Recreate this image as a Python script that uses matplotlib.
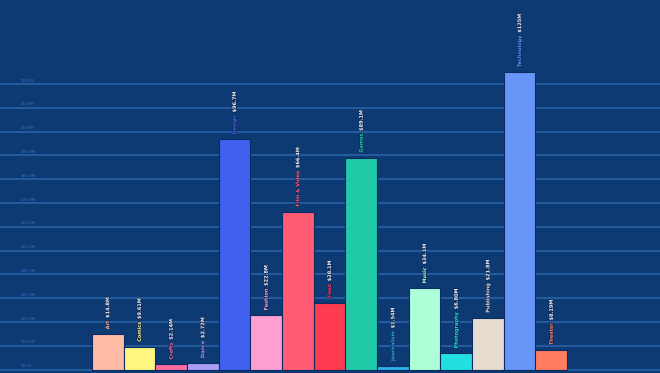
import matplotlib
matplotlib.use("Agg")
import matplotlib.pyplot as plt
import matplotlib.patheffects as pe
import numpy as np

# Kickstarter-style pledged totals per category (in $M)
categories = ["Art", "Comics", "Crafts", "Dance", "Design", "Fashion", "Film & Video",
              "Food", "Games", "Journalism", "Music", "Photography", "Publishing",
              "Technology", "Theater"]
pledged = [14.8, 9.61, 2.14, 2.72, 96.7, 22.8, 66.4, 28.1, 89.1, 1.54, 34.1,
           6.80, 21.8, 125.0, 8.19]
value_labels = ["$14.8M", "$9.61M", "$2.14M", "$2.72M", "$96.7M", "$22.8M", "$66.4M",
                "$28.1M", "$89.1M", "$1.54M", "$34.1M", "$6.80M", "$21.8M", "$125M",
                "$8.19M"]
bar_colors = ["#ffbba6", "#fff780", "#ff6b9c", "#a99cf5", "#4060f0", "#ffa0d2",
              "#ff5c73", "#ff3b50", "#20c9a7", "#2bb0e8", "#adffd8", "#22e0e0",
              "#e5dccf", "#6896f8", "#ff7c60"]
tick_values = [0, 10, 20, 30, 40, 50, 60, 70, 80, 90, 100, 110, 120]
tick_labels = ["$0.00", "$10.0M", "$20.0M", "$30.0M", "$40.0M", "$50.0M", "$60.0M",
               "$70.0M", "$80.0M", "$90.0M", "$100M", "$110M", "$120M"]

bg = "#0e3a74"
dpi = 100
fig = plt.figure(figsize=(6.6, 3.73), dpi=dpi, facecolor=bg)
ax = fig.add_axes([0, 0, 1, 1])
ax.set_facecolor(bg)

n = len(categories)
x = np.arange(n)
ax.set_xlim(-3.4, n - 1 + 3.43)
ax.set_ylim(-1.47, 155.3)

# gridlines + tick labels drawn by hand on the left
for v, lab in zip(tick_values, tick_labels):
    ax.axhline(v, color="#2a66ac", lw=1.1, zorder=1)
    ax.text(0.032, v + 0.8, lab, transform=ax.get_yaxis_transform(),
            fontsize=3.0, color="#2f6fc0", ha="left", va="bottom", zorder=2)

ax.bar(x, pledged, width=1.0, color=bar_colors, edgecolor="#0b2c62",
       linewidth=0.8, zorder=3)

for s in ax.spines.values():
    s.set_visible(False)
ax.set_xticks([])
ax.set_yticks([])

# labels above bars: category name in bar colour, then value in white
fs = 3.6
halo = [pe.withStroke(linewidth=1.0, foreground="#0b2a5a")]
cat_texts = []
for i, (c, v, col) in enumerate(zip(categories, pledged, bar_colors)):
    t = ax.annotate(c, xy=(i, v), xytext=(0, 3.5), textcoords="offset points",
                    rotation=90, ha="center", va="bottom", fontsize=fs,
                    fontweight="bold", color=col, path_effects=halo, zorder=4)
    cat_texts.append(t)

fig.canvas.draw()
renderer = fig.canvas.get_renderer()
for i, (t, v, lab) in enumerate(zip(cat_texts, pledged, value_labels)):
    h = t.get_window_extent(renderer).height * 72.0 / dpi
    ax.annotate(lab, xy=(i, v), xytext=(0, 3.5 + h + 2.0), textcoords="offset points",
                rotation=90, ha="center", va="bottom", fontsize=fs,
                fontweight="bold", color="#f2f2f2", path_effects=halo, zorder=4)

fig.savefig("out.png", dpi=dpi, facecolor=bg)
